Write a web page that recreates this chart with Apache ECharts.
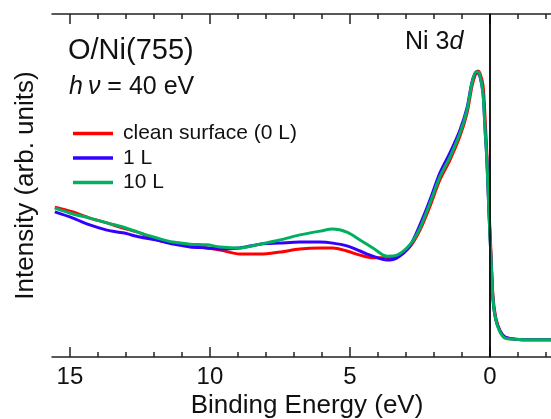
<!DOCTYPE html>
<html><head><meta charset="utf-8">
<script src="https://cdn.jsdelivr.net/npm/echarts@6/dist/echarts.min.js"></script>
<style>html,body{margin:0;padding:0;background:#fff}#c{width:551px;height:419px;overflow:hidden}</style>
</head><body><div id="c"></div>
<script>
// Binding energy (eV)
const energy = [15.54,14.89,14.29,13.68,13.11,12.5,11.89,11.32,10.71,10.11,
  9.64,8.93,8.21,7.5,6.79,6.07,5.61,5.11,4.64,4.18,
  3.68,3.32,2.86,2.5,2.14,1.79,1.43,1.07,0.82,0.64,
  0.5,0.43,0.36,0.25,0.18,0.11,0.04,-0.04,-0.11,-0.21,
  -0.36,-0.54,-0.89,-1.43,-2.18];
// Intensity (arb. units)
const cleanSurface = [43.7,42.3,40.5,39.1,37.6,36.2,34.1,33.2,32.4,31.8,
  31.2,30.0,30.0,30.6,31.5,31.8,31.8,30.9,29.7,28.9,
  28.9,29.2,32.1,37.0,44.0,51.6,57.4,64.4,71.1,79.0,
  82.8,83.4,82.8,79.3,70.6,58.9,44.3,29.7,17.5,11.4,
  7.6,5.8,5.2,5.0,5.0];
const oneL = [42.3,40.5,38.5,37.0,36.2,35.0,34.1,32.9,32.1,31.8,
  31.5,31.8,32.9,33.2,33.5,33.5,33.2,32.4,30.9,29.4,
  28.3,28.9,32.4,38.5,45.8,53.6,59.5,66.2,72.6,80.2,
  83.1,82.8,81.9,77.0,67.1,57.4,42.9,28.3,16.6,10.8,
  7.6,5.8,5.2,5.0,5.0];
const tenL = [43.4,41.7,40.5,39.1,37.9,36.2,34.7,33.5,32.9,32.7,
  32.1,31.8,32.9,34.1,35.6,36.7,37.3,36.4,34.1,31.8,
  29.4,29.7,32.7,37.6,44.9,52.5,58.3,65.3,72.0,79.9,
  83.1,83.1,82.2,77.0,67.1,57.4,42.9,28.3,16.6,10.8,
  7.3,5.5,5.2,5.0,5.0];
const seriesNames = ['clean surface (0 L)', '1 L', '10 L'];
const seriesColors = ['#ff0000', '#3300ff', '#00b060'];
const majorTicks = [15, 10, 5, 0];
const minorTicks = [15, 14, 13, 12, 11, 10, 9, 8, 7, 6, 5, 4, 3, 2, 1, 0, -1, -2];
const xMin = -2.18, xMax = 15.64;

const FONT = "'Liberation Sans', Arial, sans-serif";
const axisColor = '#222';
function xa(pos, ticks, len, line, labels) {
  return {
    type: 'value', min: xMin, max: xMax, inverse: true, gridIndex: 0, position: pos,
    splitLine: {show: false},
    axisLine: {show: line, lineStyle: {color: axisColor, width: 1.5}},
    axisTick: {show: true, inside: true, length: len, customValues: ticks, lineStyle: {color: axisColor, width: 1.5}},
    axisLabel: labels ? {show: true, customValues: ticks, fontSize: 24, fontFamily: FONT, color: '#111', margin: 8,
      formatter: v => String(v)} : {show: false}
  };
}
const datasets = [cleanSurface, oneL, tenL];
const chart = echarts.init(document.getElementById('c'));
chart.setOption({
  animation: false,
  grid: {left: 52, right: 0, top: 14, bottom: 62, containLabel: false},
  xAxis: [xa('bottom', majorTicks, 10, true, true), xa('bottom', minorTicks, 5, false, false),
          xa('top', majorTicks, 10, true, false), xa('top', minorTicks, 5, false, false)],
  yAxis: {type:'value', min:0, max:100, axisLine:{show:true, lineStyle:{color:axisColor, width:1.5}},
    axisTick:{show:false}, axisLabel:{show:false}, splitLine:{show:false},
    name:'Intensity (arb. units)', nameLocation:'middle', nameGap:13,
    nameTextStyle:{fontSize:26, fontFamily:FONT, color:'#111'}},
  legend: {orient:'vertical', left:73, top:123, padding:0, itemWidth:40, itemHeight:3.5, itemGap:3.5, icon:'rect',
    data: seriesNames, textStyle:{fontSize:21, fontFamily:FONT, color:'#111', lineHeight:21, padding:[0,0,0,5]}},
  series: datasets.map((d, i) => ({
    name: seriesNames[i], type:'line', xAxisIndex:0, yAxisIndex:0,
    data: energy.map((e, j) => [e, d[j]]), symbol:'none', showSymbol:false, smooth:0.3,
    lineStyle:{width:3, color:seriesColors[i]}, itemStyle:{color:seriesColors[i]},
    markLine: i === 0 ? {silent:true, symbol:['none','none'], label:{show:false},
      lineStyle:{color:'#000', width:1.5, type:'solid'}, data:[{xAxis:0}]} : undefined
  })),
  graphic: [
    {type:'text', x:68, y:50.5, style:{text:'O/Ni(755)', fontSize:29, fontFamily:FONT, fill:'#111', verticalAlign:'middle'}},
    {type:'text', x:69, y:87, style:{text:'{i|h\u2009\u03bd} = 40 eV', fontSize:25, fontFamily:FONT, fill:'#111', verticalAlign:'middle',
      rich:{i:{fontStyle:'italic', fontSize:25, fontFamily:FONT, fill:'#111'}}}},
    {type:'text', x:405, y:42.5, style:{text:'Ni 3{i|d}', fontSize:25, fontFamily:FONT, fill:'#111', verticalAlign:'middle',
      rich:{i:{fontStyle:'italic', fontSize:25, fontFamily:FONT, fill:'#111'}}}},
    {type:'text', x:307, y:406, style:{text:'Binding Energy (eV)', fontSize:26, fontFamily:FONT, fill:'#111', align:'center', verticalAlign:'middle'}}
  ]
});
</script></body></html>
